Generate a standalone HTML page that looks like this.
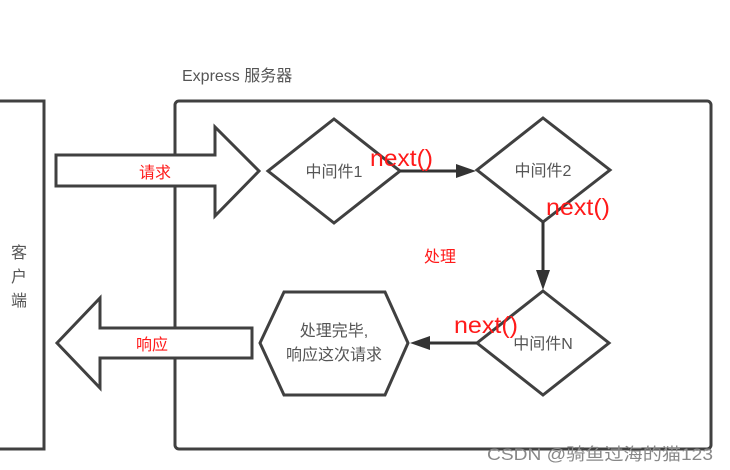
<!DOCTYPE html>
<html><head><meta charset="utf-8"><style>
html,body{margin:0;padding:0;background:#fff;}
svg{display:block;}
text{font-family:"Liberation Sans","Noto Sans CJK SC",sans-serif;}
</style></head><body>
<svg width="730" height="470" viewBox="0 0 730 470" xmlns="http://www.w3.org/2000/svg">
<g fill="none" stroke="#404040" stroke-width="3">
  <polyline points="-5,101 44,101 44,449 -5,449"/>
  <rect x="175" y="101" width="536" height="348" rx="4"/>
</g>
<g fill="#fff" stroke="#404040" stroke-width="3" stroke-linejoin="miter">
  <polygon points="56,155 215,155 215,127 259,171 215,216 215,186 56,186"/>
  <polygon points="252,328 100,328 100,298 57,343 100,388 100,358 252,358"/>
  <polygon points="334,119 400,171 334,223 268,171"/>
  <polygon points="543,118 610,170 543,222 477,170"/>
  <polygon points="543,291 609,343 543,395 477,343"/>
  <polygon points="284,292 385,292 408,343 385,395 284,395 260,343"/>
</g>
<g stroke="#333" stroke-width="3">
  <line x1="400" y1="171" x2="458" y2="171"/>
  <line x1="543" y1="222" x2="543" y2="272"/>
  <line x1="477" y1="343" x2="428" y2="343"/>
</g>
<g fill="#333">
  <polygon points="476,171 456,164 456,178"/>
  <polygon points="543,290 536,270 550,270"/>
  <polygon points="410,343 430,336 430,350"/>
</g>
<g fill="#555" font-size="16">
  <text x="182" y="81">Express 服务器</text>
  <text x="334" y="177" text-anchor="middle">中间件1</text>
  <text x="543" y="176" text-anchor="middle">中间件2</text>
  <text x="543" y="349" text-anchor="middle">中间件N</text>
  <text x="334" y="336" text-anchor="middle">处理完毕,</text>
  <text x="334" y="360" text-anchor="middle">响应这次请求</text>
  <text x="11" y="258">客</text>
  <text x="11" y="282">户</text>
  <text x="11" y="306">端</text>
</g>
<g fill="#ff1a1a">
  <text x="139" y="178" font-size="16">请求</text>
  <text x="136" y="350" font-size="16">响应</text>
  <text x="424" y="262" font-size="16">处理</text>
  <text x="370" y="166" font-size="23" textLength="63" lengthAdjust="spacingAndGlyphs">next()</text>
  <text x="546" y="215" font-size="23" textLength="64" lengthAdjust="spacingAndGlyphs">next()</text>
  <text x="454" y="333" font-size="23" textLength="64" lengthAdjust="spacingAndGlyphs">next()</text>
</g>
<text x="487" y="460" font-size="17" fill="#888" textLength="226" lengthAdjust="spacingAndGlyphs">CSDN @骑鱼过海的猫123</text>
</svg>
</body></html>
